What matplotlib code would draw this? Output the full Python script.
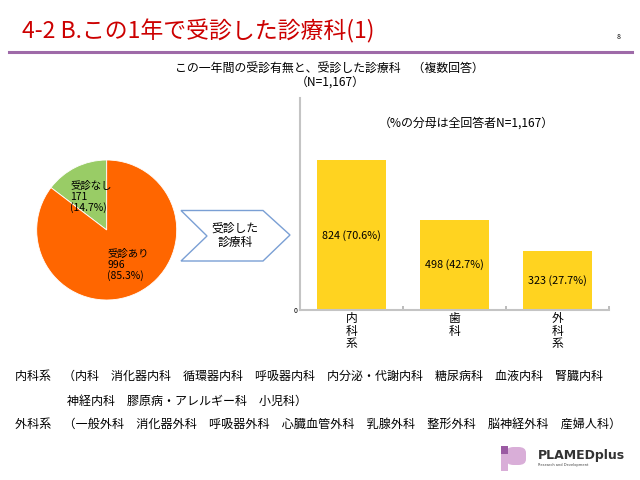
import matplotlib
matplotlib.use("Agg")
import matplotlib.pyplot as plt
from matplotlib.patches import Polygon, Rectangle, FancyBboxPatch
from matplotlib.lines import Line2D

plt.rcParams['font.family'] = ['Noto Sans CJK JP', 'DejaVu Sans']

# ---- data ----
title = "4-2 B.この1年で受診した診療科(1)"
subtitle = "この一年間の受診有無と、受診した診療科　（複数回答）"
n_total = 1167
pie_labels = ["受診なし", "受診あり"]
pie_counts = [171, 996]
pie_pcts = [14.7, 85.3]
categories = ["内科系", "歯科", "外科系"]
bar_counts = [824, 498, 323]
bar_pcts = [70.6, 42.7, 27.7]
note = "（%の分母は全回答者N=1,167）"
arrow_text = "受診した\n診療科"
footnote1 = "内科系　（内科　消化器内科　循環器内科　呼吸器内科　内分泌・代謝内科　糖尿病科　血液内科　腎臓内科"
footnote2 = "神経内科　膠原病・アレルギー科　小児科）"
footnote3 = "外科系　（一般外科　消化器外科　呼吸器外科　心臓血管外科　乳腺外科　整形外科　脳神経外科　産婦人科）"

W, H = 640, 480
fig = plt.figure(figsize=(6.4, 4.8), dpi=100)
fig.patch.set_facecolor("white")

def fx(x):
    return x / W

def fy(y):
    return 1 - y / H

# title
fig.text(fx(22), fy(31), title, fontsize=16.5, color="#cc0000", va="center", ha="left")
fig.text(fx(619), fy(37), "8", fontsize=5, color="black", va="center", ha="center")
fig.add_artist(Line2D([fx(9), fx(632)], [fy(51.5), fy(51.5)], color="#9e6aa8", lw=2.2))

# subtitle
fig.text(fx(329), fy(68), subtitle, fontsize=8.6, ha="center", va="center")
fig.text(fx(330), fy(82), "（N=1,167）", fontsize=8.6, ha="center", va="center")

# pie
axp = fig.add_axes([fx(36.7), 180 / H, 140 / W, 140 / H])
axp.pie(pie_counts, colors=["#99cc66", "#ff6600"], startangle=90, counterclock=True,
        wedgeprops=dict(edgecolor="white", linewidth=0.6))
axp.set_xlim(-1, 1)
axp.set_ylim(-1, 1)
axp.set_aspect("equal")
axp.axis("off")
pie_pos = [(70, 197), (107, 265)]
for lab, c, p, (px, py) in zip(pie_labels, pie_counts, pie_pcts, pie_pos):
    fig.text(fx(px), fy(py), f"{lab}\n{c}\n({p}%)", fontsize=7.5, ha="left", va="center",
             linespacing=1.05)

# chevron arrow
pts = [(181, 210.5), (263, 210.5), (290, 235), (263, 261), (181, 261), (207, 236)]
fig.add_artist(Polygon([(fx(a), fy(b)) for a, b in pts], closed=True, transform=fig.transFigure,
                       facecolor="white", edgecolor="#7a9fd4", lw=1.0))
fig.text(fx(235), fy(235), arrow_text, fontsize=8.5, ha="center", va="center", linespacing=1.1)

# bar chart
ax = fig.add_axes([fx(300), 1 - 310 / H, 309 / W, 212 / H])
x = list(range(len(categories)))
ax.bar(x, bar_counts, width=0.67, color="#ffd320", edgecolor="none")
ax.set_xlim(-0.5, 2.5)
ax.set_ylim(0, n_total)
for xi, c, p in zip(x, bar_counts, bar_pcts):
    ax.text(xi, c / 2, f"{c} ({p}%)", ha="center", va="center", fontsize=7.8)
for s in ["top", "right"]:
    ax.spines[s].set_visible(False)
for s in ["left", "bottom"]:
    ax.spines[s].set_color("#c4c4c4")
    ax.spines[s].set_linewidth(1.5)
ax.set_yticks([0])
ax.set_yticklabels(["0"], fontsize=5)
ax.tick_params(axis="y", length=0, pad=2)
ax.set_xticks(x)
ax.set_xticklabels(["\n".join(c) for c in categories], fontsize=8.5, linespacing=0.95, va="top")
ax.tick_params(axis="x", length=0, pad=1.5)
ax.set_xticks([0.5, 1.5, 2.5], minor=True)
ax.tick_params(axis="x", which="minor", direction="in", length=3, color="#b0b0b0", width=1.2)
fig.text(fx(466), fy(123), note, fontsize=8.6, ha="center", va="center")

# footnotes
fig.text(fx(15), fy(376), footnote1, fontsize=8.65, ha="left", va="center")
fig.text(fx(67), fy(401), footnote2, fontsize=8.65, ha="left", va="center")
fig.text(fx(15), fy(424), footnote3, fontsize=8.7, ha="left", va="center")

# logo
def rect(x0, y0, x1, y1, color):
    fig.add_artist(Rectangle((fx(x0), fy(y1)), (x1 - x0) / W, (y1 - y0) / H,
                             transform=fig.transFigure, facecolor=color, edgecolor="none"))
fig.add_artist(FancyBboxPatch((fx(506), fy(465)), 20 / W, 18 / H,
                              boxstyle="round,pad=0,rounding_size=0.012",
                              transform=fig.transFigure, facecolor="#d9aed8", edgecolor="none"))
rect(501, 454, 508, 471, "#d9aed8")
rect(501, 446, 508, 454, "#9b5aa3")
fig.text(fx(538), fy(455), "PLAMEDplus", fontsize=9, fontweight="bold", color="#333333",
         ha="left", va="center", family="DejaVu Sans")
fig.text(fx(538), fy(465), "Research and Development", fontsize=2.6, color="#444444",
         ha="left", va="center", family="DejaVu Sans")

fig.savefig("out.png", dpi=100)
